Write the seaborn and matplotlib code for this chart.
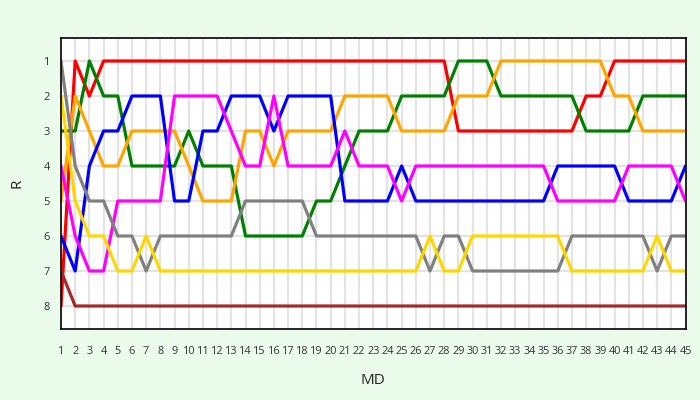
import pandas as pd
import matplotlib.pyplot as plt
import seaborn as sns

md = list(range(1, 46))

red = [8, 1, 2, 1, 1, 1, 1, 1, 1, 1, 1, 1, 1, 1, 1, 1, 1, 1, 1, 1, 1, 1, 1, 1, 1, 1, 1, 1,
       3, 3, 3, 3, 3, 3, 3, 3, 3, 2, 2, 1, 1, 1, 1, 1, 1]
green = [3, 3, 1, 2, 2, 4, 4, 4, 4, 3, 4, 4, 4, 6, 6, 6, 6, 6, 5, 5, 4, 3, 3, 3, 2, 2, 2, 2,
         1, 1, 1, 2, 2, 2, 2, 2, 2, 3, 3, 3, 3, 2, 2, 2, 2]
orange = [5, 2, 3, 4, 4, 3, 3, 3, 3, 4, 5, 5, 5, 3, 3, 4, 3, 3, 3, 3, 2, 2, 2, 2, 3, 3, 3, 3,
          2, 2, 2, 1, 1, 1, 1, 1, 1, 1, 1, 2, 2, 3, 3, 3, 3]
blue = [6, 7, 4, 3, 3, 2, 2, 2, 5, 5, 3, 3, 2, 2, 2, 3, 2, 2, 2, 2, 5, 5, 5, 5, 4, 5, 5, 5,
        5, 5, 5, 5, 5, 5, 5, 4, 4, 4, 4, 4, 5, 5, 5, 5, 4]
magenta = [4, 6, 7, 7, 5, 5, 5, 5, 2, 2, 2, 2, 3, 4, 4, 2, 4, 4, 4, 4, 3, 4, 4, 4, 5, 4, 4, 4,
           4, 4, 4, 4, 4, 4, 4, 5, 5, 5, 5, 5, 4, 4, 4, 4, 5]
gray = [1, 4, 5, 5, 6, 6, 7, 6, 6, 6, 6, 6, 6, 5, 5, 5, 5, 5, 6, 6, 6, 6, 6, 6, 6, 6, 7, 6,
        6, 7, 7, 7, 7, 7, 7, 7, 6, 6, 6, 6, 6, 6, 7, 6, 6]
gold = [2, 5, 6, 6, 7, 7, 6, 7, 7, 7, 7, 7, 7, 7, 7, 7, 7, 7, 7, 7, 7, 7, 7, 7, 7, 7, 6, 7,
        7, 6, 6, 6, 6, 6, 6, 6, 7, 7, 7, 7, 7, 7, 6, 7, 7]
brown = [7] + [8] * 44

teams = {"red": red, "green": green, "orange": orange, "blue": blue,
         "magenta": magenta, "gray": gray, "gold": gold, "brown": brown}
colors = {"red": "#ff0000", "green": "#008000", "orange": "#ffa500", "blue": "#0000ff",
          "magenta": "#ff00ff", "gray": "#808080", "gold": "#ffd700", "brown": "#a52a2a"}

rows = []
for name, ranks in teams.items():
    for m, r in zip(md, ranks):
        rows.append({"MD": m, "R": r, "team": name})
df = pd.DataFrame(rows)

sns.set_style("whitegrid")
plt.rcParams["font.family"] = ["Open Sans", "DejaVu Sans"]

bg = "#ecfcec"
fig = plt.figure(figsize=(7, 4), dpi=100, facecolor=bg)
ax = fig.add_axes([61 / 700, 1 - 329 / 400, 624.5 / 700, 291 / 400])
ax.set_facecolor("white")

sns.lineplot(data=df, x="MD", y="R", hue="team", palette=colors, linewidth=2.3,
             legend=False, ax=ax)

ax.set_xlim(1, 45)
ax.set_ylim(8.657, 0.343)
ax.set_xticks(md)
ax.set_yticks(range(1, 9))
ax.grid(True, color="#e3e3e3", linewidth=1.5)
ax.set_axisbelow(True)
for s in ax.spines.values():
    s.set_color("black")
    s.set_linewidth(1.2)

ax.tick_params(axis="x", length=5, width=1.5, color="#666666", pad=7,
               labelsize=7.8, labelcolor="#333333")
ax.tick_params(axis="y", length=5, width=1.5, color="#666666", pad=3,
               labelsize=8, labelcolor="#333333")
ax.set_xlabel("MD", fontsize=11, color="#222222", labelpad=12)
ax.set_ylabel("R", fontsize=11, color="#222222", labelpad=14)

fig.savefig("out.png", dpi=100, facecolor=bg)
